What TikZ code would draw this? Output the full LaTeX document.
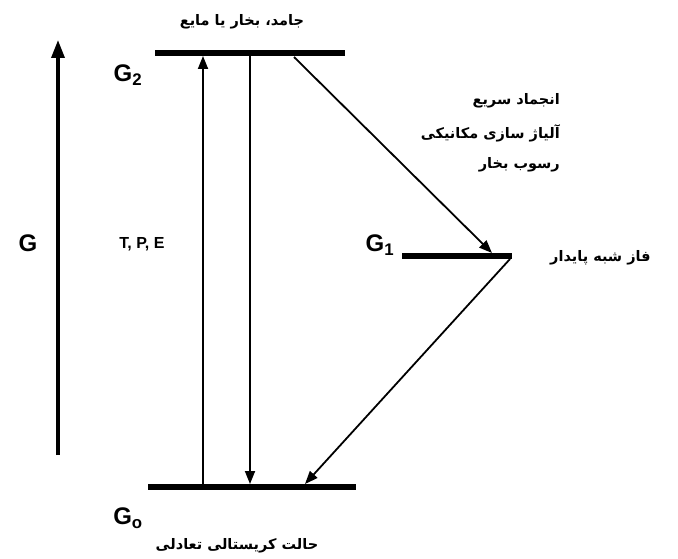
\documentclass[tikz,border=0pt]{standalone}
\usepackage{fontspec}
\setmainfont{Liberation Sans}
\newfontfamily\arabicfont[Script=Arabic]{DejaVu Sans}
\TeXXeTstate=1
\usetikzlibrary{arrows.meta}
\begin{document}
\begin{tikzpicture}[x=1pt,y=-1pt,
  level/.style={line width=6pt},
  thinarrow/.style={line width=1.8pt,-{Triangle[length=13pt,width=10pt]}},
  axisarrow/.style={line width=3.5pt,-{Triangle[length=18pt,width=13pt]}},
  ar/.style={font=\arabicfont\bfseries\fontsize{14.5}{17}\selectfont, inner sep=0pt},
  lat/.style={font=\bfseries\fontsize{24}{28}\selectfont, inner sep=0pt},
  latsm/.style={font=\bfseries\fontsize{16}{19}\selectfont, inner sep=0pt}]
\useasboundingbox (0,0) rectangle (678,559);
\fill[white] (0,0) rectangle (678,559);
% levels
\coordinate (L2a) at (155,53); \coordinate (L2b) at (345,53);
\coordinate (L1a) at (402,256); \coordinate (L1b) at (512,256);
\coordinate (L0a) at (148,487); \coordinate (L0b) at (356,487);
\draw[level] (L2a) -- (L2b);
\draw[level] (L1a) -- (L1b);
\draw[level] (L0a) -- (L0b);
% axis
\coordinate (Abot) at (58,455); \coordinate (Atop) at (58,40);
\draw[axisarrow] (Abot) -- (Atop);
\node[lat] (G) at (28,243) {G};
% labels
\node[lat] (G2) at (128,75) {G\textsubscript{2}};
\node[lat] (G1) at (380,245) {G\textsubscript{1}};
\node[lat] (G0) at (128,518) {G\textsubscript{o}};
\node[latsm] (TPE) at (142,244) {T, P, E};
% vertical arrows
\coordinate (U0) at (203,485); \coordinate (U2) at (203,56);
\coordinate (D2) at (250,56); \coordinate (D0) at (250,484);
\draw[thinarrow] (U0) -- (U2);
\draw[thinarrow] (D2) -- (D0);
% diagonal arrows
\coordinate (S2) at (294,57); \coordinate (E1) at (492,253);
\coordinate (S1) at (510,259); \coordinate (E0) at (305,484);
\draw[thinarrow] (S2) -- (E1);
\draw[thinarrow] (S1) -- (E0);
% Persian texts
\node[ar] (top) at (242,22) {\beginR جامد، بخار یا مایع\endR};
\node[ar, anchor=east] (r1) at (560,101) {\beginR انجماد سریع\endR};
\node[ar, anchor=east] (r2) at (560,133) {\beginR آلیاژ سازی مکانیکی\endR};
\node[ar, anchor=east] (r3) at (560,165) {\beginR رسوب بخار\endR};
\node[ar, anchor=west] (meta) at (550,258) {\beginR فاز شبه پایدار\endR};
\node[ar] (bot) at (237,546) {\beginR حالت کریستالی تعادلی\endR};
\end{tikzpicture}
\end{document}
